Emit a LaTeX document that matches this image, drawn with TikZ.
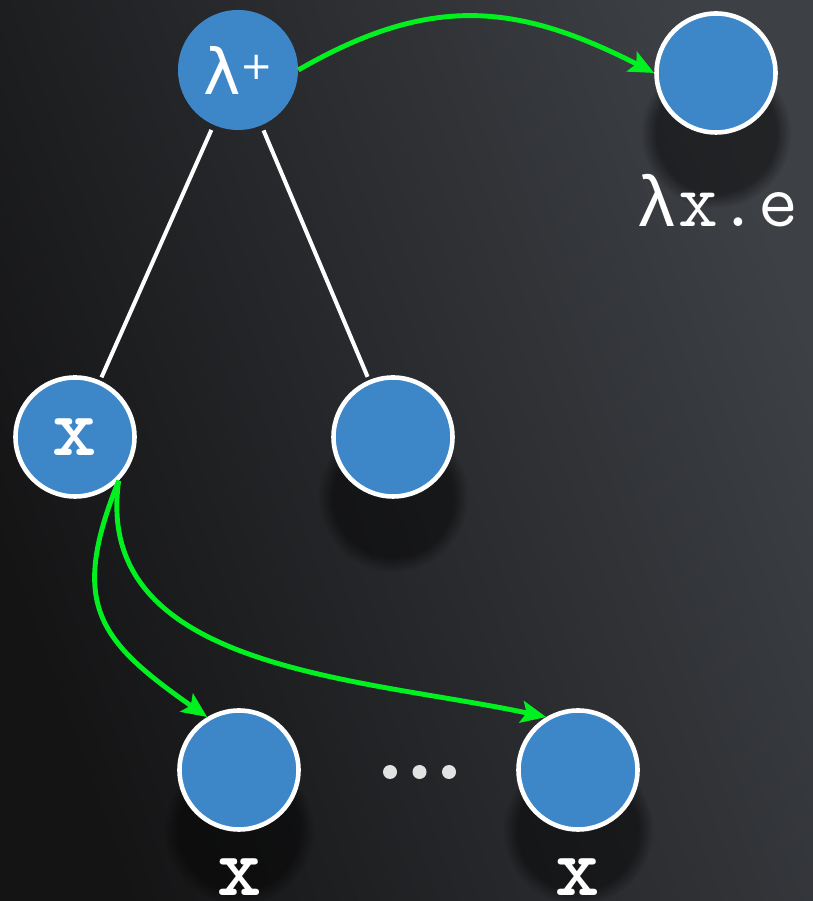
\documentclass[tikz,border=0pt]{standalone}
\usepackage{fontspec}
\newfontfamily\lamfont{DejaVu Sans}
\newfontfamily\greekmono{Liberation Mono}
\usetikzlibrary{arrows.meta,backgrounds,fadings}
\definecolor{nodeblue}{HTML}{3D87C9}
\definecolor{linkgreen}{HTML}{00F020}
\definecolor{bglight}{HTML}{3D4045}
\definecolor{bgdark}{HTML}{141415}
\definecolor{dotgray}{HTML}{E2E2E2}

\begin{document}
\begin{tikzpicture}[
  tn/.style={circle,draw=white,line width=2.6pt,fill=nodeblue,minimum size=2.38cm,
             inner sep=0pt,text=white,font=\ttfamily\bfseries\fontsize{48}{48}\selectfont},
  rt/.style={circle,fill=nodeblue,minimum size=2.4cm,inner sep=0pt,text=white,
             font=\lamfont\fontsize{36}{36}\selectfont},
  lbl/.style={text=white,anchor=base,inner sep=0pt},
  tr/.style={white,line width=2.3pt,shorten <=3pt,shorten >=2pt},
  link/.style={-{Stealth[length=5mm,width=4.4mm,inset=1mm]},linkgreen,line width=2.8pt},
  shad/.style={black,opacity=.45,path fading=circle with fuzzy edge 20 percent}
]
\useasboundingbox (0,0) rectangle (16.26,18.02);
% tree
\node[rt] (lam) at (4.76,16.62) {λ\raisebox{.3cm}{\fontsize{22}{22}\selectfont +}};
\node[tn] (abs) at (14.32,16.56) {};
\node[tn] (var) at (1.5,9.28) {x};
\node[tn] (arg) at (7.86,9.28) {};
\node[tn] (use1) at (4.78,2.62) {};
\node[tn] (use2) at (11.56,2.62) {};
\node[lbl,font=\ttfamily\fontsize{44}{44}\selectfont] (abslbl) at (14.34,13.48)
  {{\greekmono\fontsize{41}{41}\selectfont λ}x.e};
\node[lbl,font=\ttfamily\bfseries\fontsize{48}{48}\selectfont] (u1lbl) at (4.8,0.1) {x};
\node[lbl,font=\ttfamily\bfseries\fontsize{48}{48}\selectfont] (u2lbl) at (11.56,0.1) {x};
\foreach \dx in {7.8,8.39,8.98}
  \fill[dotgray] (\dx,2.58) circle (0.14);

\draw[tr] (lam) -- (var);
\draw[tr] (lam) -- (arg);

% links
\draw[link] (lam.east) to[out=30,in=153,looseness=1.1] (abs.west);
\draw[link] (var.-45) to[out=248,in=145,looseness=1.35] (use1.121);
\draw[link] (var.-45) to[out=262,in=168] (use2.121);

\begin{scope}[on background layer]
  \shade[top color=bglight,bottom color=bgdark,shading angle=-70] (0,0) rectangle (16.26,18.02);
  \foreach \n in {abs,arg,use1,use2}
    \fill[shad] ([yshift=-1.2cm]\n.center) circle (1.5cm);
\end{scope}
\end{tikzpicture}
\end{document}
